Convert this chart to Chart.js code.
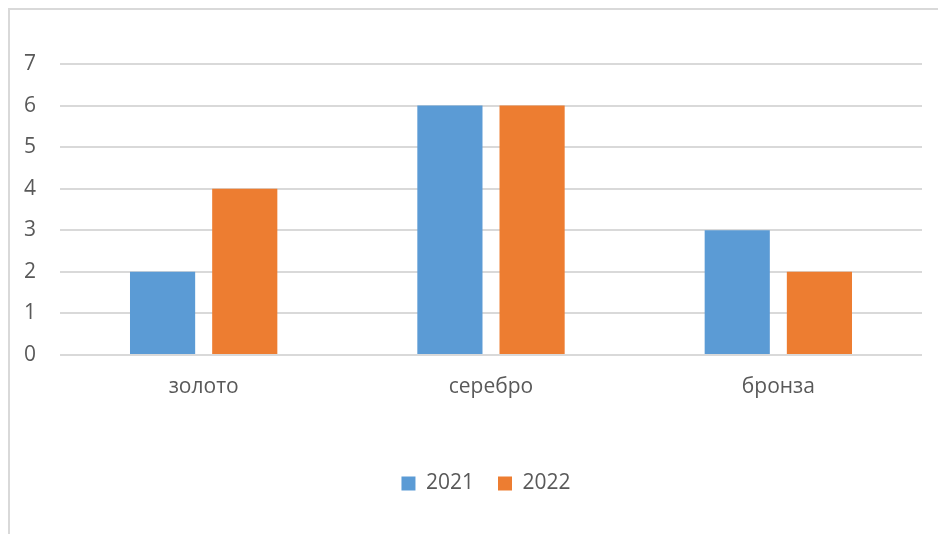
<!DOCTYPE html>
<html>
<head>
<meta charset="utf-8">
<script src="https://cdn.jsdelivr.net/npm/chart.js@4.4.1/dist/chart.umd.min.js"></script>
<style>
  html, body { margin: 0; padding: 0; background: #fff; overflow: hidden; }
  #frame {
    position: absolute; left: 8px; top: 8px; width: 940px; height: 540px;
    border-left: 2px solid #d9d9d9; border-top: 2px solid #d9d9d9;
  }
  #wrap { position: absolute; left: 0; top: 0; width: 938px; height: 534px; }
</style>
</head>
<body>
<div id="frame"></div>
<div id="wrap"><canvas id="chart" width="938" height="534"></canvas></div>
<script>
'use strict';

// ─── Data ─────────────────────────────────────────────────────────────────────
const categories = ['золото', 'серебро', 'бронза'];
const values2021 = [2, 6, 3];
const values2022 = [4, 6, 2];
const seriesLabels = ['2021', '2022'];

const TEXT = '#595959';
const FONT = "'Open Sans', 'Liberation Sans', sans-serif";

// legend sits a little right of centre in the original
const shiftLegend = {
  id: 'shiftLegend',
  afterLayout(chart) {
    chart.legend.left += 20;
    chart.legend.right += 20;
  },
};

new Chart(document.getElementById('chart').getContext('2d'), {
  type: 'bar',
  data: {
    labels: categories,
    datasets: [
      { label: seriesLabels[0], data: values2021, backgroundColor: '#5b9bd5',
        categoryPercentage: 0.572, barPercentage: 0.793 },
      { label: seriesLabels[1], data: values2022, backgroundColor: '#ed7d31',
        categoryPercentage: 0.572, barPercentage: 0.793 },
    ],
  },
  options: {
    responsive: false,
    animation: false,
    devicePixelRatio: 1,
    layout: { padding: { left: 10, right: 16, top: 64, bottom: 30 } },
    plugins: {
      tooltip: { enabled: false },
      legend: {
        position: 'bottom',
        labels: { color: TEXT, font: { family: FONT, size: 21 }, boxWidth: 14, boxHeight: 14, padding: 24 },
      },
    },
    scales: {
      x: {
        grid: { display: false },
        border: { display: false },
        ticks: { color: TEXT, font: { family: FONT, size: 21 }, padding: 11 },
        afterFit: s => { s.height = 94; },
      },
      y: {
        min: 0, max: 7,
        ticks: { stepSize: 1, color: TEXT, font: { family: FONT, size: 21 }, padding: 24 },
        grid: { color: '#d9d9d9', lineWidth: 2, drawTicks: false },
        border: { display: false },
        afterFit: s => { s.width = 50; },
      },
    },
  },
  plugins: [shiftLegend],
});
</script>
</body>
</html>
